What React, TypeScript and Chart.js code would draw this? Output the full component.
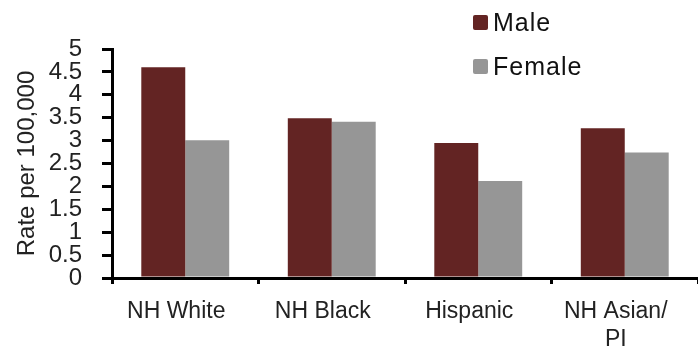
import React, { useEffect, useRef } from "react";
import { Chart, registerables } from "chart.js";

Chart.register(...registerables);

const categories: (string | string[])[] = ["NH White", "NH Black", "Hispanic", ["NH Asian/", "PI"]];
const maleValues = [4.6, 3.49, 2.95, 3.27];
const femaleValues = [3.01, 3.41, 2.12, 2.74];
const seriesNames = ["Male", "Female"];
const yTitle = "Rate per 100,000";

const FONT = "'Liberation Sans', Arial, sans-serif";

const legendPlugin = {
  id: "customLegend",
  afterDraw(chart: any) {
    const ctx = chart.ctx;
    ctx.save();
    const x0 = 473;
    const ys = [15, 59];
    chart.data.datasets.forEach((ds: any, i: number) => {
      const y = ys[i];
      ctx.fillStyle = ds.backgroundColor;
      ctx.beginPath();
      if ((ctx as any).roundRect) (ctx as any).roundRect(x0, y, 15, 15, 2);
      else ctx.rect(x0, y, 15, 15);
      ctx.fill();
      ctx.fillStyle = "#111";
      ctx.font = `25px ${FONT}`;
      try { (ctx as any).letterSpacing = "1px"; } catch (e) {}
      ctx.textBaseline = "middle";
      ctx.textAlign = "left";
      ctx.fillText(ds.label, x0 + 20, y + 9);
    });
    ctx.restore();
  },
};

export default function App() {
  const ref = useRef<HTMLCanvasElement | null>(null);
  useEffect(() => {
    if (!ref.current) return;
    const chart = new Chart(ref.current, {
      type: "bar",
      data: {
        labels: categories,
        datasets: [
          { label: seriesNames[0], data: maleValues, backgroundColor: "#632423", borderWidth: 0 },
          { label: seriesNames[1], data: femaleValues, backgroundColor: "#969696", borderWidth: 0 },
        ],
      },
      options: {
        responsive: false,
        animation: false,
        devicePixelRatio: 1,
        layout: { padding: { top: 49, right: 0, left: 0, bottom: 0 } },
        plugins: { legend: { display: false }, tooltip: { enabled: false } },
        datasets: { bar: { barPercentage: 1, categoryPercentage: 0.6 } },
        scales: {
          x: {
            afterFit: (s: any) => { s.height = 70; },
            border: { display: true, color: "#000", width: 3 },
            grid: { display: true, offset: true, drawOnChartArea: false, drawTicks: true, tickLength: 6, color: "#000", lineWidth: 3 },
            ticks: {
              autoSkip: false,
              maxRotation: 0,
              minRotation: 0,
              padding: 13,
              labelOffset: -9,
              color: "#222",
              font: { family: FONT, size: 23, lineHeight: 1.25 },
            },
          },
          y: {
            min: 0,
            max: 5,
            afterFit: (s: any) => { s.width = 112; },
            border: { display: true, color: "#000", width: 3 },
            grid: { display: true, drawOnChartArea: false, drawTicks: true, tickLength: 10, color: "#000", lineWidth: 3 },
            ticks: {
              stepSize: 0.5,
              autoSkip: false,
              padding: 20,
              color: "#222",
              font: { family: FONT, size: 24, lineHeight: 1.0 },
              callback: (v: any) => String(Number(v)),
            },
            title: {
              display: true,
              text: yTitle,
              color: "#222",
              font: { family: FONT, size: 24, lineHeight: 1.2 },
              padding: { top: 13, bottom: 0 },
            },
          },
        },
      },
      plugins: [legendPlugin],
    });
    return () => chart.destroy();
  }, []);
  return (
    <div style={{ position: "fixed", left: 0, top: 0, width: 698, height: 348, background: "#fff" }}>
      <canvas ref={ref} width={698} height={348} style={{ display: "block", width: 698, height: 348 }} />
    </div>
  );
}
